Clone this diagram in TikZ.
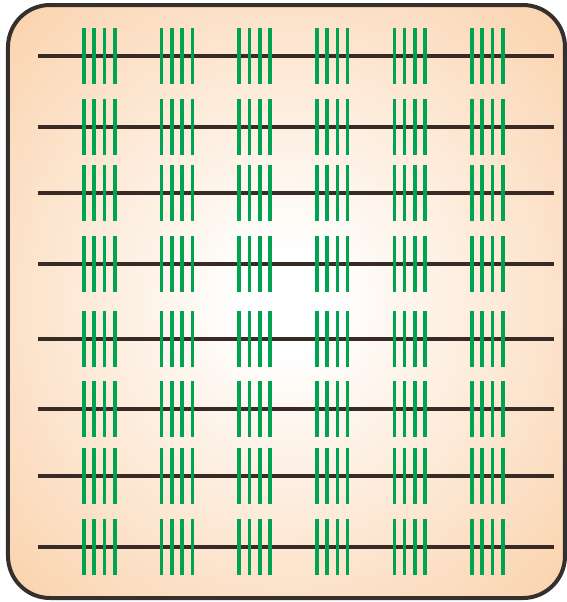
\documentclass[tikz,border=0pt]{standalone}
\definecolor{peach}{RGB}{250,208,168}
\definecolor{tickgreen}{RGB}{0,163,80}
\definecolor{wire}{RGB}{58,42,38}
\definecolor{rim}{RGB}{51,48,46}
\pgfdeclareradialshading{glow}{\pgfpoint{0bp}{0bp}}{color(0bp)=(white); color(4bp)=(white); color(37bp)=(peach); color(50bp)=(peach)}
\begin{document}
\begin{tikzpicture}[x=0.5pt, y=-0.5pt, thick]
    \useasboundingbox (0,0) rectangle (567,602);
    \shadedraw[shading=glow, draw=rim, line width=2pt, rounded corners=21pt] (8,5) rectangle (565,598);
    % wires
    \foreach \y in {56,127,193,264,339,409,476,547}
        \draw[wire, line width=1.7pt] (38,\y) -- (554,\y);
    % groups of four ticks on every wire
    \foreach \y in {56,127,193,264,339,409,476,547}
        \foreach \g in {0,...,5}
            \foreach \k in {0,...,3}
                \draw[tickgreen, line width=1.8pt] (84+77.6*\g+10.3*\k,\y-28) -- ++(0,56);
\end{tikzpicture}
\end{document}
